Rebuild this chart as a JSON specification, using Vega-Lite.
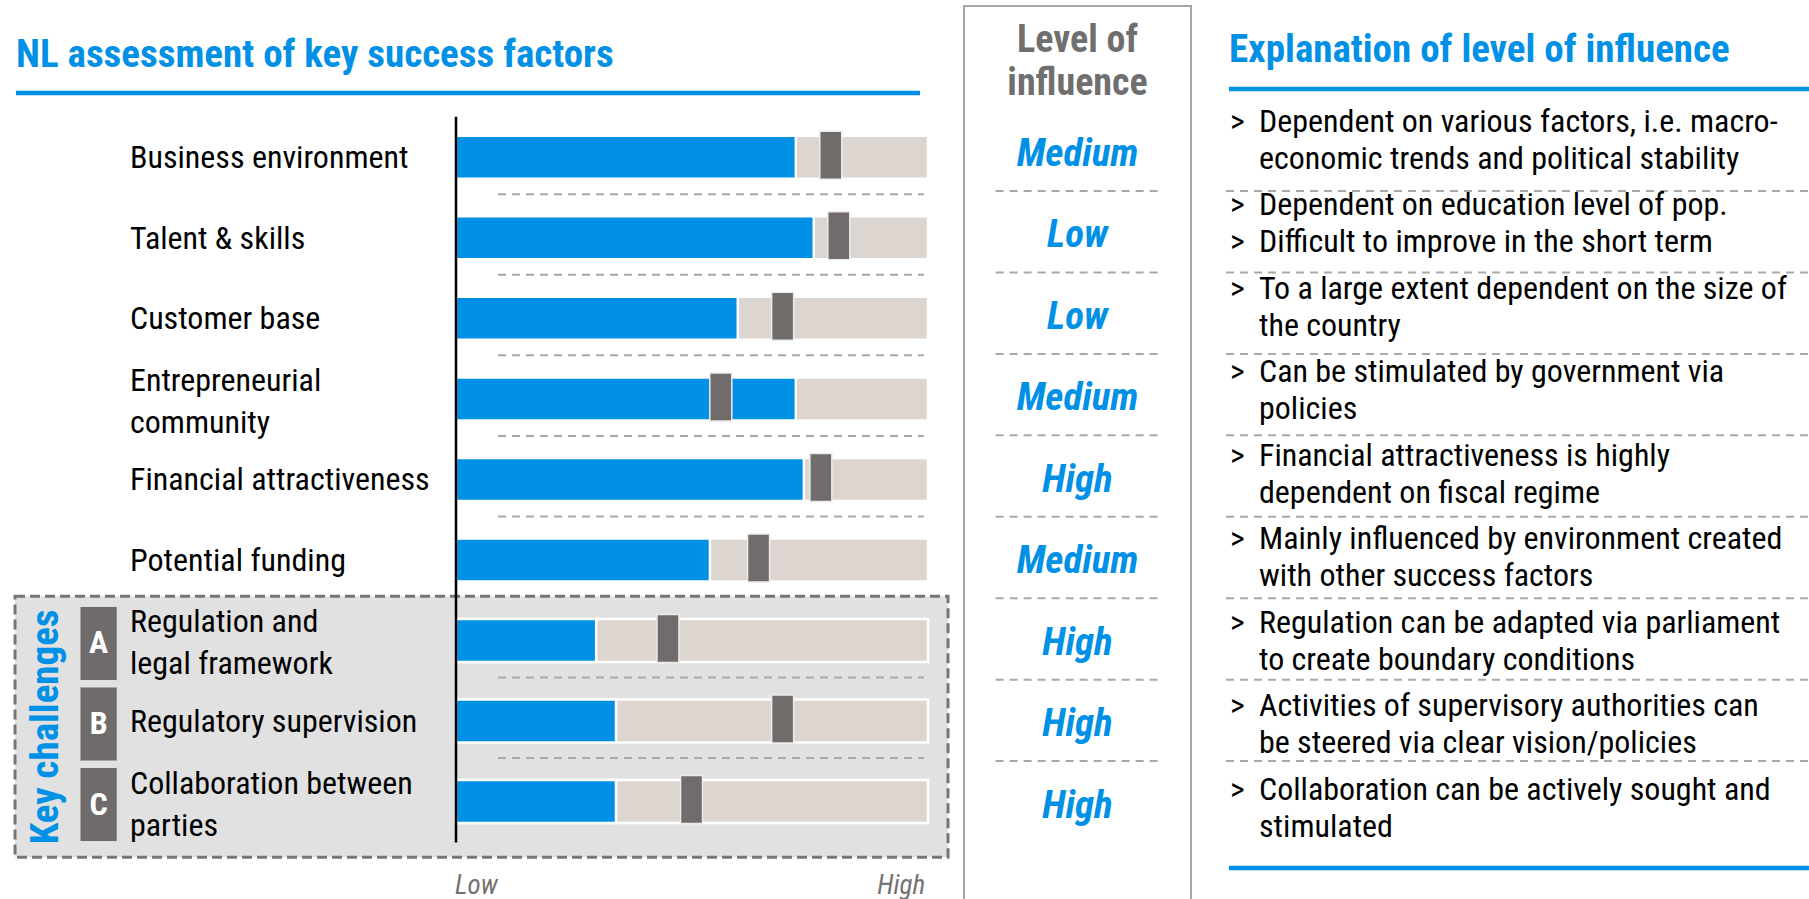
{
  "$schema": "https://vega.github.io/schema/vega-lite/v6.json",
  "padding": 0,
  "spacing": 0,
  "bounds": "flush",
  "background": "#ffffff",
  "config": {
    "view": {"stroke": null},
    "axis": {"disable": true},
    "concat": {"spacing": 0},
    "text": {"font": "Roboto Condensed, Noto Sans Condensed, Open Sans Condensed, Liberation Sans Narrow, Liberation Sans, sans-serif"}
  },
  "data": {
    "values": [
      {"row": 1, "label": "Business environment", "current": 72.0, "target": 79.4, "level": "Medium", "bullet": ">", "expl": "Dependent on various factors, i.e. macro-\neconomic trends and political stability"},
      {"row": 2, "label": "Talent & skills", "current": 75.8, "target": 81.1, "level": "Low", "bullet": ">\n>", "expl": "Dependent on education level of pop.\nDifficult to improve in the short term"},
      {"row": 3, "label": "Customer base", "current": 59.7, "target": 69.2, "level": "Low", "bullet": ">", "expl": "To a large extent dependent on the size of\nthe country"},
      {"row": 4, "label": "Entrepreneurial\ncommunity", "current": 72.0, "target": 56.1, "level": "Medium", "bullet": ">", "expl": "Can be stimulated by government via\npolicies"},
      {"row": 5, "label": "Financial attractiveness", "current": 73.7, "target": 77.3, "level": "High", "bullet": ">", "expl": "Financial attractiveness is highly\ndependent on fiscal regime"},
      {"row": 6, "label": "Potential funding", "current": 53.8, "target": 64.1, "level": "Medium", "bullet": ">", "expl": "Mainly influenced by environment created\nwith other success factors"},
      {"row": 7, "label": "Regulation and\nlegal framework", "current": 29.7, "target": 44.9, "level": "High", "key": "A", "bullet": ">", "expl": "Regulation can be adapted via parliament\nto create boundary conditions"},
      {"row": 8, "label": "Regulatory supervision", "current": 33.9, "target": 69.2, "level": "High", "key": "B", "bullet": ">", "expl": "Activities of supervisory authorities can\nbe steered via clear vision/policies"},
      {"row": 9, "label": "Collaboration between\nparties", "current": 33.9, "target": 49.9, "level": "High", "key": "C", "bullet": ">", "expl": "Collaboration can be actively sought and\nstimulated"}
    ]
  },
  "hconcat": [
    {
      "width": 950,
      "height": 899,
      "layer": [
        {
          "data": {"values": [{"group": "Key challenges"}]},
          "mark": {"type": "rect", "fill": "#e1e1e1", "stroke": "#767676", "strokeWidth": 3, "strokeDash": [10, 5]},
          "encoding": {
            "x": {"datum": -93.43, "type": "quantitative", "scale": {"domain": [-96.61, 104.66], "nice": false, "zero": false}},
            "x2": {"datum": 104.24},
            "y": {"datum": 6.452, "type": "quantitative", "scale": {"domain": [-0.891, 10.148], "reverse": true, "nice": false, "zero": false}},
            "y2": {"datum": 9.693}
          }
        },
        {
          "data": {"values": [{"title": "NL assessment of key success factors"}]},
          "mark": {"type": "text", "align": "left", "baseline": "middle", "fontSize": 39, "fontWeight": "bold", "color": "#0091e6"},
          "encoding": {
            "x": {"datum": -93.22, "type": "quantitative", "scale": {"domain": [-96.61, 104.66], "nice": false, "zero": false}},
            "y": {"datum": -0.275, "type": "quantitative", "scale": {"domain": [-0.891, 10.148], "reverse": true, "nice": false, "zero": false}},
            "text": {"field": "title"}
          }
        },
        {
          "data": {"values": [{"title": "NL assessment of key success factors"}]},
          "mark": {"type": "rule", "strokeWidth": 4.5, "color": "#0091e6"},
          "encoding": {
            "x": {"datum": -93.22, "type": "quantitative", "scale": {"domain": [-96.61, 104.66], "nice": false, "zero": false}},
            "x2": {"datum": 98.31},
            "y": {"datum": 0.2018, "type": "quantitative", "scale": {"domain": [-0.891, 10.148], "reverse": true, "nice": false, "zero": false}}
          }
        },
        {
          "mark": {"type": "bar", "orient": "horizontal", "size": 43, "color": "#ddd5cf", "stroke": "#ffffff", "strokeWidth": 2.5},
          "encoding": {
            "x": {"datum": 0, "type": "quantitative", "scale": {"domain": [-96.61, 104.66], "nice": false, "zero": false}},
            "x2": {"datum": 100},
            "y": {"field": "row", "type": "quantitative", "scale": {"domain": [-0.891, 10.148], "reverse": true, "nice": false, "zero": false}}
          }
        },
        {
          "mark": {"type": "bar", "orient": "horizontal", "size": 43, "color": "#0091e6", "stroke": "#ffffff", "strokeWidth": 2.5},
          "encoding": {
            "x": {"field": "current", "type": "quantitative", "scale": {"domain": [-96.61, 104.66], "nice": false, "zero": false}},
            "x2": {"datum": 0},
            "y": {"field": "row", "type": "quantitative", "scale": {"domain": [-0.891, 10.148], "reverse": true, "nice": false, "zero": false}}
          }
        },
        {
          "mark": {"type": "tick", "orient": "vertical", "thickness": 22, "size": 48, "color": "#716c6b", "stroke": "#ececec", "strokeWidth": 1.5, "yOffset": -2, "opacity": 1},
          "encoding": {
            "x": {"field": "target", "type": "quantitative", "scale": {"domain": [-96.61, 104.66], "nice": false, "zero": false}},
            "y": {"field": "row", "type": "quantitative", "scale": {"domain": [-0.891, 10.148], "reverse": true, "nice": false, "zero": false}}
          }
        },
        {
          "data": {"values": [{"axis": "Low-High"}]},
          "mark": {"type": "rule", "strokeWidth": 2.5, "color": "#000000"},
          "encoding": {
            "x": {"datum": 0, "type": "quantitative", "scale": {"domain": [-96.61, 104.66], "nice": false, "zero": false}},
            "y": {"datum": 0.4965, "type": "quantitative", "scale": {"domain": [-0.891, 10.148], "reverse": true, "nice": false, "zero": false}},
            "y2": {"datum": 9.509}
          }
        },
        {
          "transform": [{"filter": "datum.row != 6 && datum.row != 9"}],
          "mark": {"type": "rule", "strokeWidth": 2, "color": "#a9a9a9", "strokeDash": [8, 6], "yOffset": 37},
          "encoding": {
            "x": {"datum": 8.9, "type": "quantitative", "scale": {"domain": [-96.61, 104.66], "nice": false, "zero": false}},
            "x2": {"datum": 99.15},
            "y": {"field": "row", "type": "quantitative", "scale": {"domain": [-0.891, 10.148], "reverse": true, "nice": false, "zero": false}}
          }
        },
        {
          "transform": [{"filter": "indexof(datum.label, '\\n') < 0"}],
          "mark": {"type": "text", "align": "left", "baseline": "middle", "fontSize": 32, "lineHeight": 42, "lineBreak": "\n", "color": "#000000", "yOffset": 1},
          "encoding": {
            "x": {"datum": -69.07, "type": "quantitative", "scale": {"domain": [-96.61, 104.66], "nice": false, "zero": false}},
            "y": {"field": "row", "type": "quantitative", "scale": {"domain": [-0.891, 10.148], "reverse": true, "nice": false, "zero": false}},
            "text": {"field": "label"}
          }
        },
        {
          "transform": [{"filter": "indexof(datum.label, '\\n') >= 0"}],
          "mark": {"type": "text", "align": "left", "baseline": "middle", "fontSize": 32, "lineHeight": 42, "lineBreak": "\n", "color": "#000000", "yOffset": -18},
          "encoding": {
            "x": {"datum": -69.07, "type": "quantitative", "scale": {"domain": [-96.61, 104.66], "nice": false, "zero": false}},
            "y": {"field": "row", "type": "quantitative", "scale": {"domain": [-0.891, 10.148], "reverse": true, "nice": false, "zero": false}},
            "text": {"field": "label"}
          }
        },
        {
          "transform": [{"filter": "isValid(datum.key)"}],
          "mark": {"type": "bar", "orient": "horizontal", "size": 73, "color": "#706b6a", "yOffset": 3},
          "encoding": {
            "x": {"datum": -79.56, "type": "quantitative", "scale": {"domain": [-96.61, 104.66], "nice": false, "zero": false}},
            "x2": {"datum": -71.88},
            "y": {"field": "row", "type": "quantitative", "scale": {"domain": [-0.891, 10.148], "reverse": true, "nice": false, "zero": false}}
          }
        },
        {
          "transform": [{"filter": "isValid(datum.key)"}],
          "mark": {"type": "text", "align": "center", "baseline": "middle", "fontSize": 32, "fontWeight": "bold", "color": "#ffffff", "yOffset": 3},
          "encoding": {
            "x": {"datum": -75.72, "type": "quantitative", "scale": {"domain": [-96.61, 104.66], "nice": false, "zero": false}},
            "y": {"field": "row", "type": "quantitative", "scale": {"domain": [-0.891, 10.148], "reverse": true, "nice": false, "zero": false}},
            "text": {"field": "key"}
          }
        },
        {
          "data": {"values": [{"group": "Key challenges"}]},
          "mark": {"type": "text", "align": "center", "baseline": "middle", "angle": 270, "fontSize": 39, "fontWeight": "bold", "color": "#0091e6"},
          "encoding": {
            "x": {"datum": -86.86, "type": "quantitative", "scale": {"domain": [-96.61, 104.66], "nice": false, "zero": false}},
            "y": {"datum": 8.073, "type": "quantitative", "scale": {"domain": [-0.891, 10.148], "reverse": true, "nice": false, "zero": false}},
            "text": {"field": "group"}
          }
        },
        {
          "data": {"values": [{"end": "Low"}]},
          "mark": {"type": "text", "align": "left", "baseline": "middle", "fontSize": 27, "fontStyle": "italic", "color": "#767171"},
          "encoding": {
            "x": {"datum": -0.2, "type": "quantitative", "scale": {"domain": [-96.61, 104.66], "nice": false, "zero": false}},
            "y": {"datum": 10.05, "type": "quantitative", "scale": {"domain": [-0.891, 10.148], "reverse": true, "nice": false, "zero": false}},
            "text": {"field": "end"}
          }
        },
        {
          "data": {"values": [{"end": "High"}]},
          "mark": {"type": "text", "align": "right", "baseline": "middle", "fontSize": 27, "fontStyle": "italic", "color": "#767171"},
          "encoding": {
            "x": {"datum": 99.4, "type": "quantitative", "scale": {"domain": [-96.61, 104.66], "nice": false, "zero": false}},
            "y": {"datum": 10.05, "type": "quantitative", "scale": {"domain": [-0.891, 10.148], "reverse": true, "nice": false, "zero": false}},
            "text": {"field": "end"}
          }
        }
      ]
    },
    {
      "width": 255,
      "height": 899,
      "layer": [
        {
          "data": {"values": [{"header": "Level of\ninfluence"}]},
          "mark": {"type": "rect", "fillOpacity": 0, "stroke": "#a6a6a6", "strokeWidth": 2},
          "encoding": {
            "x": {"datum": 0.0549, "type": "quantitative", "scale": {"domain": [0, 1], "nice": false, "zero": false}},
            "x2": {"datum": 0.9451},
            "y": {"datum": -0.8173, "type": "quantitative", "scale": {"domain": [-0.891, 10.148], "reverse": true, "nice": false, "zero": false}},
            "y2": {"datum": 10.22}
          }
        },
        {
          "data": {"values": [{"header": "Level of\ninfluence"}]},
          "mark": {"type": "text", "align": "center", "baseline": "middle", "fontSize": 38, "fontWeight": "bold", "lineHeight": 43, "lineBreak": "\n", "color": "#6f6f6f", "yOffset": -19},
          "encoding": {
            "x": {"datum": 0.5, "type": "quantitative", "scale": {"domain": [0, 1], "nice": false, "zero": false}},
            "y": {"datum": -0.16, "type": "quantitative", "scale": {"domain": [-0.891, 10.148], "reverse": true, "nice": false, "zero": false}},
            "text": {"field": "header"}
          }
        },
        {
          "transform": [{"filter": "datum.row < 9"}],
          "mark": {"type": "rule", "strokeWidth": 2, "color": "#a9a9a9", "strokeDash": [8, 6], "yOffset": 37},
          "encoding": {
            "x": {"datum": 0.179, "type": "quantitative", "scale": {"domain": [0, 1], "nice": false, "zero": false}},
            "x2": {"datum": 0.816},
            "y": {"field": "row", "type": "quantitative", "scale": {"domain": [-0.891, 10.148], "reverse": true, "nice": false, "zero": false}}
          }
        },
        {
          "mark": {"type": "text", "align": "center", "baseline": "middle", "fontSize": 39, "fontWeight": "bold", "fontStyle": "italic", "color": "#0091e6"},
          "encoding": {
            "x": {"datum": 0.5, "type": "quantitative", "scale": {"domain": [0, 1], "nice": false, "zero": false}},
            "y": {"field": "row", "type": "quantitative", "scale": {"domain": [-0.891, 10.148], "reverse": true, "nice": false, "zero": false}},
            "text": {"field": "level"}
          }
        }
      ]
    },
    {
      "width": 604,
      "height": 899,
      "resolve": {"scale": {"y": "independent"}},
      "layer": [
        {
          "data": {"values": [{"title": "Explanation of level of influence"}]},
          "mark": {"type": "text", "align": "left", "baseline": "middle", "fontSize": 39, "fontWeight": "bold", "color": "#0091e6"},
          "encoding": {
            "x": {"datum": 0.0397, "type": "quantitative", "scale": {"domain": [0, 1], "nice": false, "zero": false}},
            "y": {"datum": -0.275, "type": "quantitative", "scale": {"domain": [-0.891, 10.148], "reverse": true, "nice": false, "zero": false}},
            "text": {"field": "title"}
          }
        },
        {
          "data": {"values": [{"title": "Explanation of level of influence"}]},
          "mark": {"type": "rule", "strokeWidth": 4.5, "color": "#0091e6"},
          "encoding": {
            "x": {"datum": 0.0397, "type": "quantitative", "scale": {"domain": [0, 1], "nice": false, "zero": false}},
            "x2": {"datum": 1},
            "y": {"datum": 0.2018, "type": "quantitative", "scale": {"domain": [-0.891, 10.148], "reverse": true, "nice": false, "zero": false}}
          }
        },
        {
          "data": {"values": [{"title": "Explanation of level of influence"}]},
          "mark": {"type": "rule", "strokeWidth": 4.5, "color": "#0091e6"},
          "encoding": {
            "x": {"datum": 0.0397, "type": "quantitative", "scale": {"domain": [0, 1], "nice": false, "zero": false}},
            "x2": {"datum": 1},
            "y": {"datum": 9.767, "type": "quantitative", "scale": {"domain": [-0.891, 10.148], "reverse": true, "nice": false, "zero": false}}
          }
        },
        {
          "transform": [{"filter": "datum.row < 9"}],
          "mark": {"type": "rule", "strokeWidth": 2, "color": "#a9a9a9", "strokeDash": [8, 6], "yOffset": 37},
          "encoding": {
            "x": {"datum": 0.0348, "type": "quantitative", "scale": {"domain": [0, 1], "nice": false, "zero": false}},
            "x2": {"datum": 1},
            "y": {"field": "row", "type": "quantitative", "scale": {"domain": [-0.891, 10.148], "reverse": true, "nice": false, "zero": false}}
          }
        },
        {
          "mark": {"type": "text", "align": "left", "baseline": "middle", "fontSize": 32, "lineHeight": 37, "lineBreak": "\n", "color": "#000000", "yOffset": -21},
          "encoding": {
            "x": {"datum": 0.0414, "type": "quantitative", "scale": {"domain": [0, 1], "nice": false, "zero": false}},
            "y": {"field": "row", "type": "quantitative", "scale": {"domain": [-0.7126, 10.054], "reverse": true, "nice": false, "zero": false}},
            "text": {"field": "bullet"}
          }
        },
        {
          "mark": {"type": "text", "align": "left", "baseline": "middle", "fontSize": 32, "lineHeight": 37, "lineBreak": "\n", "color": "#000000", "yOffset": -21},
          "encoding": {
            "x": {"datum": 0.0894, "type": "quantitative", "scale": {"domain": [0, 1], "nice": false, "zero": false}},
            "y": {"field": "row", "type": "quantitative", "scale": {"domain": [-0.7126, 10.054], "reverse": true, "nice": false, "zero": false}},
            "text": {"field": "expl"}
          }
        }
      ]
    }
  ]
}
